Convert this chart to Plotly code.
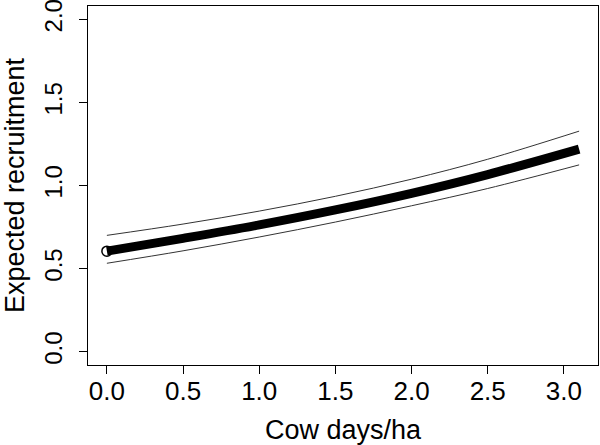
import plotly.graph_objects as go

# Data
cow_days = [0.0, 0.5, 1.0, 1.5, 2.0, 2.5, 3.1]
expected = [0.605, 0.682, 0.763, 0.853, 0.953, 1.066, 1.219]
upper_ci = [0.700, 0.768, 0.846, 0.935, 1.038, 1.158, 1.327]
lower_ci = [0.532, 0.607, 0.690, 0.780, 0.878, 0.982, 1.124]

x_ticks = [0.0, 0.5, 1.0, 1.5, 2.0, 2.5, 3.0]
x_ticklabels = ["0.0", "0.5", "1.0", "1.5", "2.0", "2.5", "3.0"]
y_ticks = [0.0, 0.5, 1.0, 1.5, 2.0]
y_ticklabels = ["0.0", "0.5", "1.0", "1.5", "2.0"]

FONT = "Liberation Sans, Arial, sans-serif"

fig = go.Figure()
for band in (upper_ci, lower_ci):
    fig.add_trace(go.Scatter(
        x=cow_days, y=band, mode="lines",
        line=dict(color="#333333", width=1, shape="spline"),
        hoverinfo="skip", showlegend=False,
    ))
fig.add_trace(go.Scatter(
    x=cow_days, y=expected, mode="lines",
    line=dict(color="black", width=9, shape="spline"),
    showlegend=False,
))
fig.add_trace(go.Scatter(
    x=cow_days[:1], y=expected[:1], mode="markers",
    marker=dict(symbol="circle-open", size=10, color="black", line=dict(width=1.5)),
    showlegend=False,
))

axis_common = dict(
    showline=True, mirror=True, linecolor="black", linewidth=1,
    ticks="outside", ticklen=8, tickcolor="black", tickwidth=1,
    showgrid=False, zeroline=False, automargin=False,
    ticklabeloverflow="allow",
)

fig.update_layout(
    width=600, height=445,
    margin=dict(l=88, r=2, t=6, b=80),
    plot_bgcolor="white", paper_bgcolor="white",
    font=dict(family=FONT, color="black"),
    xaxis=dict(
        range=[-0.124, 3.224], tickvals=x_ticks, ticktext=x_ticklabels,
        ticklabelstandoff=-5,
        tickfont=dict(family=FONT, size=26, color="black"),
        title=dict(text="Cow days/ha", font=dict(family=FONT, size=27), standoff=16),
        **axis_common,
    ),
    yaxis=dict(
        range=[-0.08, 2.08], tickvals=y_ticks, ticktext=y_ticklabels,
        tickangle=-90, ticklabelstandoff=7,
        tickfont=dict(family=FONT, size=24, color="black"),
        title=dict(text="Expected recruitment", font=dict(family=FONT, size=27), standoff=17),
        **axis_common,
    ),
)

fig.write_html(
    "out.html",
    config={"displayModeBar": False},
    post_script="document.body.style.margin='0px';document.body.style.overflow='hidden';",
)
